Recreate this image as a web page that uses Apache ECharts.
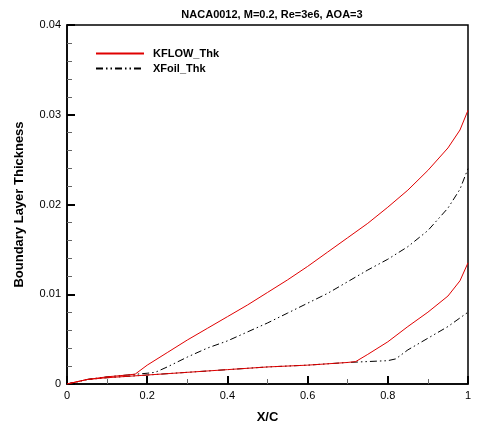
<!DOCTYPE html>
<html>
<head>
<meta charset="utf-8">
<script src="https://cdn.jsdelivr.net/npm/echarts@6/dist/echarts.min.js"></script>
<style>html,body{margin:0;padding:0;background:#fff}#c{width:477px;height:429px}</style>
</head>
<body>
<div id="c"></div>
<script>
var xTicks = [0, 0.2, 0.4, 0.6, 0.8, 1];
var yTicks = [0, 0.01, 0.02, 0.03, 0.04];

var kflowUpperX = [0, 0.05, 0.1, 0.15, 0.17, 0.2, 0.25, 0.3, 0.35, 0.4, 0.45, 0.5, 0.55, 0.6, 0.65, 0.7, 0.75, 0.8, 0.85, 0.9, 0.95, 0.98, 1.0];
var kflowUpperY = [0, 0.0005, 0.0008, 0.001, 0.0011, 0.0021, 0.0035, 0.0049, 0.0062, 0.0075, 0.0088, 0.0102, 0.0116, 0.0131, 0.0147, 0.0163, 0.0179, 0.0197, 0.0216, 0.0238, 0.0263, 0.0283, 0.0305];

var kflowLowerX = [0, 0.05, 0.1, 0.2, 0.3, 0.4, 0.5, 0.6, 0.7, 0.72, 0.75, 0.8, 0.85, 0.9, 0.95, 0.98, 1.0];
var kflowLowerY = [0, 0.0005, 0.0007, 0.0010, 0.0013, 0.0016, 0.0019, 0.0021, 0.0024, 0.0025, 0.0033, 0.0047, 0.0064, 0.0080, 0.0098, 0.0115, 0.0135];

var xfoilUpperX = [0, 0.05, 0.1, 0.15, 0.2, 0.22, 0.25, 0.3, 0.35, 0.4, 0.45, 0.5, 0.55, 0.6, 0.65, 0.7, 0.75, 0.8, 0.85, 0.9, 0.95, 0.98, 1.0];
var xfoilUpperY = [0, 0.0005, 0.0008, 0.001, 0.0012, 0.0013, 0.0019, 0.0030, 0.0040, 0.0048, 0.0058, 0.0068, 0.0079, 0.0090, 0.0101, 0.0114, 0.0127, 0.0139, 0.0153, 0.0171, 0.0196, 0.0217, 0.0240];

var xfoilLowerX = [0, 0.05, 0.1, 0.2, 0.3, 0.4, 0.5, 0.6, 0.7, 0.8, 0.82, 0.85, 0.9, 0.95, 1.0];
var xfoilLowerY = [0, 0.0005, 0.0007, 0.0010, 0.0013, 0.0016, 0.0019, 0.0021, 0.0024, 0.0026, 0.0028, 0.0038, 0.0051, 0.0064, 0.0080];

function pairs(xs, ys) { return xs.map(function (x, i) { return [x, ys[i]]; }); }

var FONT = '"Liberation Sans", Arial, sans-serif';
var dashDot = [7, 3, 1.5, 3, 1.5, 3];

var chart = echarts.init(document.getElementById('c'), null, {renderer: 'canvas'});
chart.setOption({
  animation: false,
  backgroundColor: '#fff',
  title: {
    text: 'NACA0012, M=0.2, Re=3e6, AOA=3',
    left: 267, top: 4, textAlign: 'center',
    textStyle: {fontFamily: FONT, fontSize: 11, fontWeight: 'bold', color: '#000'}
  },
  legend: {
    left: 90, top: 43, orient: 'vertical', itemGap: 4,
    itemWidth: 48, itemHeight: 10,
    itemStyle: {opacity: 0},
    textStyle: {fontFamily: FONT, fontSize: 11, fontWeight: 'bold', color: '#000', padding: [0, 0, 0, 4]},
    data: ['KFLOW_Thk', 'XFoil_Thk']
  },
  grid: {left: 67, right: 9, top: 25, bottom: 39, show: true, borderColor: '#000', borderWidth: 1.5, backgroundColor: 'transparent'},
  xAxis: {
    type: 'value', min: 0, max: 1, interval: 0.2,
    name: 'X/C', nameLocation: 'middle', nameGap: 27,
    nameTextStyle: {fontFamily: FONT, fontSize: 13, fontWeight: 'bold', color: '#000'},
    axisLine: {show: true, lineStyle: {color: '#000', width: 1.5}},
    axisTick: {show: true, inside: true, length: 8, lineStyle: {color: '#000', width: 2}},
    minorTick: {show: true, splitNumber: 2, length: 5, lineStyle: {color: '#666', width: 1}},
    splitLine: {show: false},
    axisLabel: {fontFamily: FONT, fontSize: 11, color: '#000', margin: 6,
      formatter: function (v) { return xTicks.indexOf(+v.toFixed(2)) >= 0 ? String(+v.toFixed(2)) : ''; }}
  },
  yAxis: {
    type: 'value', min: 0, max: 0.04, interval: 0.01,
    name: 'Boundary Layer Thickness', nameLocation: 'middle', nameGap: 41,
    nameTextStyle: {fontFamily: FONT, fontSize: 13, fontWeight: 'bold', color: '#000'},
    axisLine: {show: true, lineStyle: {color: '#000', width: 1.5}},
    axisTick: {show: true, inside: true, length: 8, lineStyle: {color: '#000', width: 2}},
    minorTick: {show: true, splitNumber: 5, length: 5, lineStyle: {color: '#666', width: 1}},
    splitLine: {show: false},
    axisLabel: {fontFamily: FONT, fontSize: 11, color: '#000', margin: 6,
      formatter: function (v) { return yTicks.indexOf(+v.toFixed(3)) >= 0 ? String(+v.toFixed(3)) : ''; }}
  },
  series: [
    {name: 'KFLOW_Thk', type: 'line', data: pairs(kflowUpperX, kflowUpperY), symbol: 'none', color: '#e00000', lineStyle: {width: 1, color: '#e00000'}},
    {name: 'KFLOW_Thk', type: 'line', data: pairs(kflowLowerX, kflowLowerY), symbol: 'none', color: '#e00000', lineStyle: {width: 1, color: '#e00000'}, z: 3},
    {name: 'XFoil_Thk', type: 'line', data: pairs(xfoilUpperX, xfoilUpperY), symbol: 'none', color: '#000', lineStyle: {width: 1, color: '#000', type: dashDot}, z: 2},
    {name: 'XFoil_Thk', type: 'line', data: pairs(xfoilLowerX, xfoilLowerY), symbol: 'none', color: '#000', lineStyle: {width: 1, color: '#000', type: dashDot}, z: 2}
  ]
});
</script>
</body>
</html>
